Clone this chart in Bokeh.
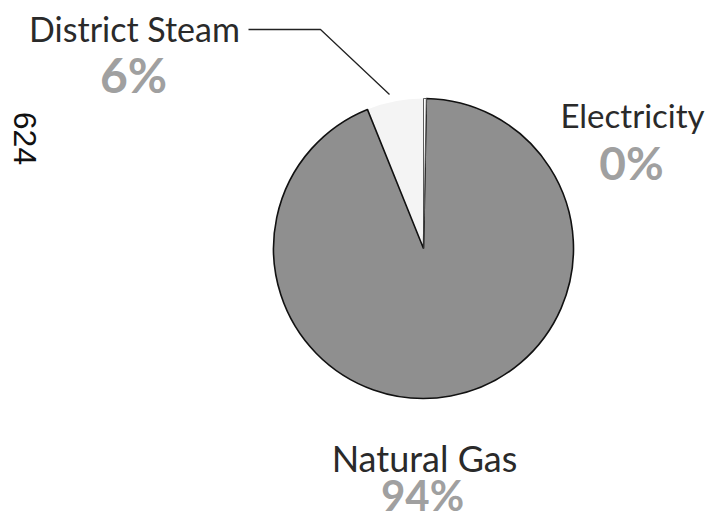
import math
from bokeh.plotting import figure
from bokeh.models import Range1d
from bokeh.core.properties import value
from bokeh.embed import file_html
from bokeh.resources import INLINE

# Data
categories = ["District Steam", "Natural Gas", "Electricity"]
shares = [6.1, 93.6, 0.3]
pct_labels = ["6%", "94%", "0%"]
colors = ["#f4f4f4", "#8f8f8f", "#fbfbfb"]
outlines = [None, "#111111", None]
page_number = "624"

W, H = 711, 521


def Y(v):
    return H - v


p = figure(width=W, height=H, x_range=Range1d(0, W), y_range=Range1d(0, H),
           output_backend="svg", toolbar_location=None, min_border=0)
p.axis.visible = False
p.grid.visible = False
p.outline_line_color = None
p.background_fill_color = "white"
p.border_fill_color = "white"

# Pie, starting at 12 o'clock, going anticlockwise
total = sum(shares)
cx, cy, r = 423, Y(248), 150
start = math.pi / 2
starts, ends = [], []
for s in shares:
    a = 2 * math.pi * s / total
    starts.append(start)
    ends.append(start + a)
    start += a
for i in range(len(shares)):
    p.wedge(x=cx, y=cy, radius=r, start_angle=starts[i], end_angle=ends[i],
            fill_color=colors[i], line_color=outlines[i], line_width=1.6)
# thin edge lines of the electricity sliver
p.wedge(x=cx, y=cy, radius=r, start_angle=starts[2], end_angle=ends[2],
        fill_color=colors[2], line_color="#333333", line_width=0.8)

font = value("Lato")
txt = "#2a2a2a"
# Category labels
p.text(x=[134], y=[Y(28)], text=[categories[0]], text_font=font, text_font_size="34px",
       text_color=txt, text_align="center", text_baseline="middle")
p.text(x=[632], y=[Y(114)], text=[categories[2]], text_font=font, text_font_size="33px",
       text_color=txt, text_align="center", text_baseline="middle")
p.text(x=[424], y=[Y(457)], text=[categories[1]], text_font=font, text_font_size="36px",
       text_color=txt, text_align="center", text_baseline="middle")

# Percent labels
p.text(x=[133], y=[Y(74)], text=[pct_labels[0]], text_font=font, text_font_size="48px",
       text_font_style="bold", text_color="#a0a0a0", text_align="center", text_baseline="middle")
p.text(x=[631], y=[Y(162)], text=[pct_labels[2]], text_font=font, text_font_size="46px",
       text_font_style="bold", text_color="#a0a0a0", text_align="center", text_baseline="middle")
p.text(x=[422], y=[Y(494)], text=[pct_labels[1]], text_font=font, text_font_size="42px",
       text_font_style="bold", text_color="#a0a0a0", text_align="center", text_baseline="middle")

# Leader line for District Steam
p.line(x=[248, 320, 389], y=[Y(29), Y(29), Y(94)], line_color="#222222", line_width=1.3)

# Page number, rotated
p.text(x=[24], y=[Y(138)], text=[page_number], text_font=value("Liberation Sans"),
       text_font_size="32px", text_color="#111111", angle=-math.pi / 2,
       text_align="center", text_baseline="middle")

open("out.html", "w").write(file_html(p, INLINE))
